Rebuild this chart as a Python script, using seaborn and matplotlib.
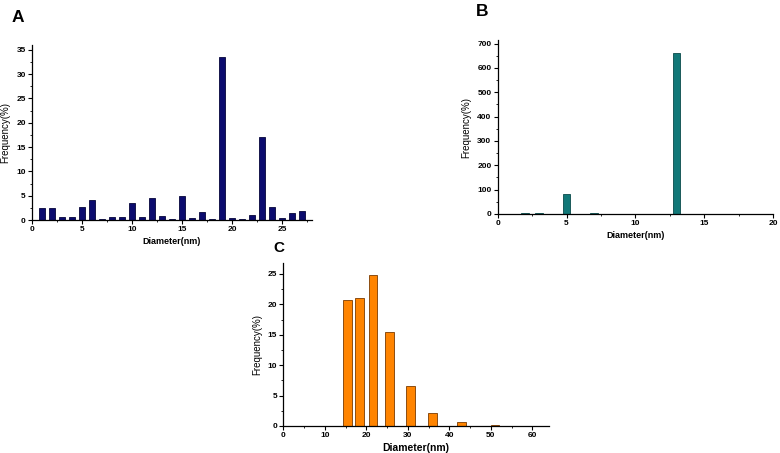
import numpy as np
import pandas as pd
import seaborn as sns
import matplotlib.pyplot as plt
from matplotlib.ticker import MultipleLocator

# Panel A: particle size distribution
a_diam = list(range(1, 28))
a_freq = [2.4, 2.4, 0.7, 0.7, 2.6, 4.1, 0.3, 0.6, 0.7, 3.5, 0.7, 4.5, 0.9, 0.3,
          4.9, 0.5, 1.7, 0.3, 33.5, 0.5, 0.3, 1.1, 17.0, 2.6, 0.5, 1.4, 1.8]

# Panel B
b_diam = list(range(1, 20))
b_freq = [1, 5, 5, 1, 82, 1, 5, 1, 1, 1, 1, 1, 663, 1, 1, 1, 1, 1, 2]

# Panel C
c_diam = [15.4, 18.3, 21.6, 25.5, 30.6, 36.0, 43.0, 51.0]
c_freq = [20.7, 21.1, 24.8, 15.4, 6.6, 2.2, 0.6, 0.2]

sns.set_style("ticks")
plt.rcParams['font.family'] = ['Liberation Sans', 'DejaVu Sans']
plt.rcParams['text.color'] = 'black'
plt.rcParams['axes.labelcolor'] = 'black'
plt.rcParams['xtick.color'] = 'black'
plt.rcParams['ytick.color'] = 'black'
plt.rcParams['axes.edgecolor'] = 'black'

fig = plt.figure(figsize=(7.8, 4.53), dpi=100)

ax_a = fig.add_axes([32 / 780, 1 - 220 / 453, 280 / 780, 175 / 453])
ax_b = fig.add_axes([497.7 / 780, 1 - 214 / 453, 275.3 / 780, 174 / 453])
ax_c = fig.add_axes([283.3 / 780, 1 - 426 / 453, 265.7 / 780, 163 / 453])


def draw(ax, x, y, color, edge, width, xlim, ylim, xstep, ystep, xlab_size):
    df = pd.DataFrame({'Diameter': x, 'Frequency': y})
    sns.barplot(data=df, x='Diameter', y='Frequency', native_scale=True,
                color=color, edgecolor=edge, linewidth=0.6, width=width,
                saturation=1, errorbar=None, ax=ax)
    ax.set_xlim(*xlim)
    ax.set_ylim(*ylim)
    ax.xaxis.set_major_locator(MultipleLocator(xstep))
    ax.xaxis.set_minor_locator(MultipleLocator(xstep / 2))
    ax.yaxis.set_major_locator(MultipleLocator(ystep))
    ax.yaxis.set_minor_locator(MultipleLocator(ystep / 2))
    ax.tick_params(which='major', direction='out', length=3, width=0.8,
                   labelsize=6, pad=1.5)
    ax.tick_params(which='minor', direction='out', length=1.5, width=0.6)
    for lab in ax.get_xticklabels() + ax.get_yticklabels():
        lab.set_fontweight('bold')
    ax.set_xlabel('Diameter(nm)', fontsize=xlab_size, fontweight='bold', labelpad=3)
    ax.set_ylabel('Frequency(%)', fontsize=7, labelpad=4)
    for s in ['left', 'bottom']:
        ax.spines[s].set_linewidth(0.9)
    sns.despine(ax=ax)


draw(ax_a, a_diam, a_freq, '#0b0b6e', '#05053a', 0.67, (0, 28), (0, 36), 5, 5, 6.5)
draw(ax_b, b_diam, b_freq, '#127878', '#0a4a4a', 0.55, (0, 20), (0, 715), 5, 100, 6.5)
draw(ax_c, c_diam, c_freq, '#ff8400', '#7a3a00', 0.74, (0, 64), (0, 26.8), 10, 5, 7.5)

# near-zero bars in B look like grey dashes on the baseline
for p in ax_b.patches:
    if p.get_height() < 3:
        p.set_edgecolor('#8a8a8a')
        p.set_facecolor('#8a8a8a')

fig.text(12 / 780, 1 - 17.5 / 453, 'A', fontsize=12.5, fontweight='bold', va='center')
fig.text(476 / 780, 1 - 11 / 453, 'B', fontsize=12.5, fontweight='bold', va='center')
fig.text(273 / 780, 1 - 248 / 453, 'C', fontsize=11, fontweight='bold', va='center')

fig.savefig('out.png', dpi=100)
